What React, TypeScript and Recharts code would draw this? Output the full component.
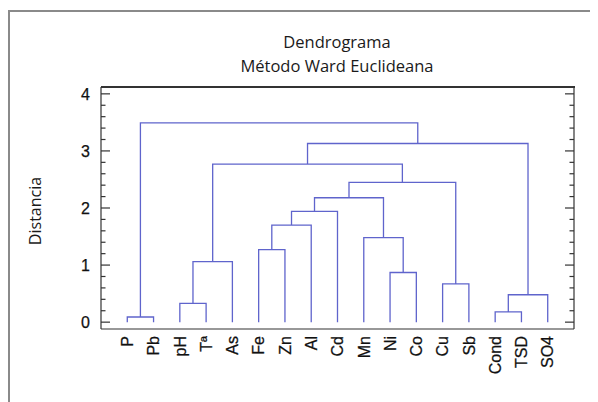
import React from 'react';
import { ComposedChart, Line, XAxis, YAxis } from 'recharts';

// leaves in the order they appear along the bottom axis
const leafLabels = ['P', 'Pb', 'pH', 'Tª', 'As', 'Fe', 'Zn', 'Al', 'Cd', 'Mn', 'Ni', 'Co', 'Cu', 'Sb', 'Cond', 'TSD', 'SO4'];

// merges: ids 0..16 are leaves, merge k creates node 17 + k
const mergeLeft = [0, 2, 14, 19, 12, 10, 18, 5, 9, 24, 26, 27, 28, 23, 30, 17];
const mergeRight = [1, 3, 15, 16, 13, 11, 4, 6, 22, 7, 8, 25, 21, 29, 20, 31];
const mergeHeight = [0.09, 0.33, 0.18, 0.48, 0.67, 0.87, 1.06, 1.27, 1.48, 1.7, 1.94, 2.18, 2.45, 2.77, 3.13, 3.49];

const majorTicks = [0, 1, 2, 3, 4];
const allTicks = [0, 0.2, 0.4, 0.6, 0.8, 1, 1.2, 1.4, 1.6, 1.8, 2, 2.2, 2.4, 2.6, 2.8, 3, 3.2, 3.4, 3.6, 3.8, 4];
const xDomain = [0, 18];
const yDomain = [-0.12, 4.12];

const LINK_COLOR = '#5f64cc';
const AXIS_COLOR = '#333';
const SANS = "'Liberation Sans', Arial, sans-serif";

const W = 590;
const H = 394;
const M = { top: 79, right: 23, bottom: 13, left: 33 };
const Y_AXIS_W = 60;

// build the U shaped links from the merge table
const nodeX: number[] = leafLabels.map((_, i) => i + 1);
const nodeH: number[] = leafLabels.map(() => 0);
const links = mergeLeft.map((l, k) => {
  const r = mergeRight[k];
  const h = mergeHeight[k];
  nodeX.push((nodeX[l] + nodeX[r]) / 2);
  nodeH.push(h);
  return [
    { x: nodeX[l], y: nodeH[l] },
    { x: nodeX[l], y: h },
    { x: nodeX[r], y: h },
    { x: nodeX[r], y: nodeH[r] },
  ];
});

const LeafTick = ({ x, y, payload }: any) => (
  <g transform={`translate(${x},${y}) rotate(-90)`}>
    <text x={-7} y={0} dy="0.36em" textAnchor="end" fontSize={16} fill="#111"
      stroke="#111" strokeWidth={0.25} fontFamily={SANS}>
      {leafLabels[payload.value - 1]}
    </text>
  </g>
);

const LeftTick = ({ x, y, payload }: any) => {
  const major = majorTicks.includes(payload.value);
  return (
    <g>
      <line x1={x} x2={x + (major ? 9 : 4.5)} y1={y} y2={y} stroke={AXIS_COLOR} strokeWidth={1.2} />
      {major && (
        <text x={x - 11} y={y} dy="0.36em" textAnchor="end" fontSize={16} fill="#111"
          stroke="#111" strokeWidth={0.25} fontFamily={SANS}>
          {payload.value}
        </text>
      )}
    </g>
  );
};

const RightTick = ({ x, y, payload }: any) => {
  const major = majorTicks.includes(payload.value);
  return <line x1={x - (major ? 9 : 4.5)} x2={x} y1={y} y2={y} stroke={AXIS_COLOR} strokeWidth={1.2} />;
};

export default function App() {
  return (
    <div style={{ position: 'relative', width: W, height: H, background: '#fff' }}>
      <div style={{
        position: 'absolute', left: 0, top: 2, right: 0, bottom: 0,
        borderLeft: '2px solid #8a8a8a', borderTop: '2px solid #8a8a8a',
      }} />
      <div style={{
        position: 'absolute', left: 179, top: 22, width: 300, textAlign: 'center',
        fontFamily: "'Open Sans', sans-serif", fontSize: 16.5, lineHeight: '24px', color: '#1a1a1a',
      }}>
        <div>Dendrograma</div>
        <div>Método Ward Euclideana</div>
      </div>
      <div style={{
        position: 'absolute', left: 27, top: 203, transform: 'translate(-50%,-50%) rotate(-90deg)',
        whiteSpace: 'nowrap', fontFamily: "'Open Sans', sans-serif", fontSize: 16, color: '#1a1a1a',
      }}>
        Distancia
      </div>
      <div style={{ position: 'absolute', left: 0, top: 0 }}>
        <ComposedChart width={W} height={H} margin={M}>
          <XAxis xAxisId="bottom" type="number" dataKey="x" domain={xDomain} ticks={leafLabels.map((_, i) => i + 1)}
            interval={0} tickLine={false} tickSize={0} tickMargin={0} height={60}
            axisLine={{ stroke: AXIS_COLOR, strokeWidth: 1.2 }} tick={<LeafTick />} allowDataOverflow />
          <YAxis yAxisId="left" type="number" domain={yDomain} ticks={allTicks} interval={0}
            width={Y_AXIS_W} tickLine={false} tickSize={0} tickMargin={0} allowDataOverflow
            axisLine={{ stroke: AXIS_COLOR, strokeWidth: 1.2 }} tick={<LeftTick />} />
          <YAxis yAxisId="right" orientation="right" type="number" domain={yDomain} ticks={allTicks}
            interval={0} width={1} tickLine={false} tickSize={0} tickMargin={0} allowDataOverflow
            axisLine={{ stroke: AXIS_COLOR, strokeWidth: 1.2 }} tick={<RightTick />} />
          {links.map((pts, k) => (
            <Line key={k} xAxisId="bottom" yAxisId="left" data={pts} dataKey="y" type="linear"
              stroke={LINK_COLOR} strokeWidth={1.3} dot={false} activeDot={false}
              isAnimationActive={false} />
          ))}
        </ComposedChart>
      </div>
      {/* top edge of the plot frame */}
      <div style={{
        position: 'absolute', left: M.left + Y_AXIS_W, top: M.top - 1,
        width: W - M.left - Y_AXIS_W - M.right, height: 1.5, background: AXIS_COLOR,
      }} />
    </div>
  );
}
